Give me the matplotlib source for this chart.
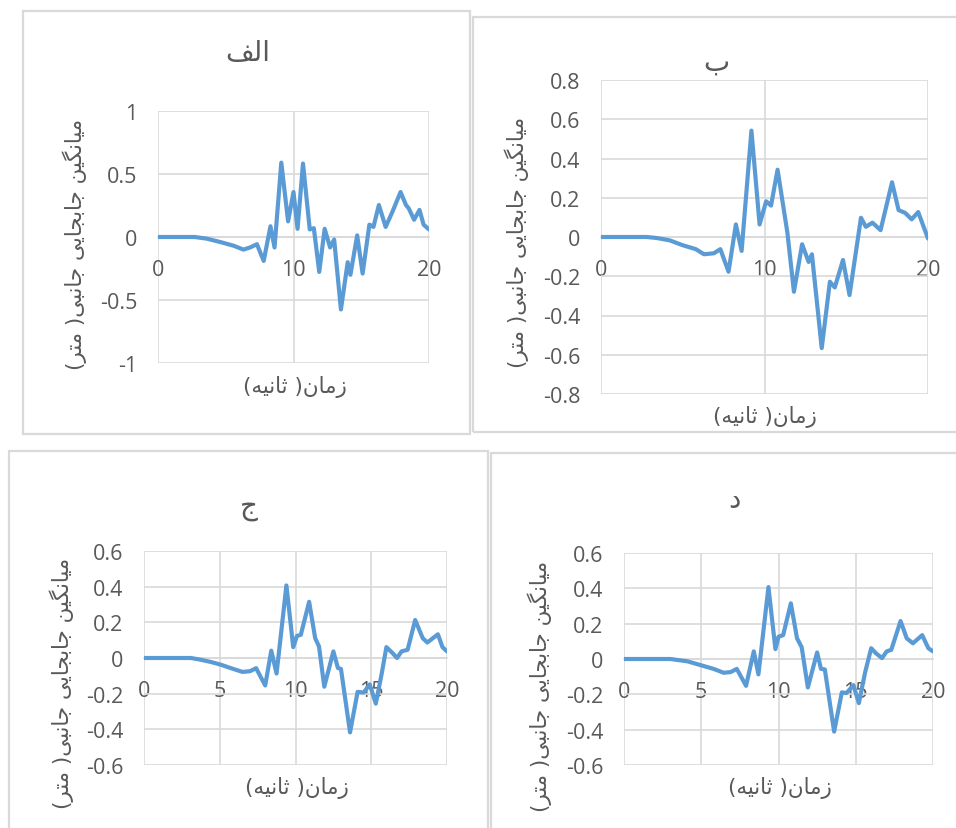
import matplotlib
matplotlib.use("Agg")
import matplotlib.pyplot as plt
from matplotlib.patches import Rectangle

plt.rcParams['axes.unicode_minus'] = False

# ---------------- data ----------------
t_a = [0, 1, 2, 2.7, 3.6, 4.6, 5.6, 6.3, 6.8, 7.3, 7.8, 8.3, 8.6, 9.1, 9.6, 10.0, 10.3, 10.7, 11.2, 11.5,
       11.9, 12.3, 12.7, 13.0, 13.5, 14.0, 14.2, 14.7, 15.1, 15.6, 15.9, 16.3, 16.8, 17.3, 17.9, 18.3, 18.5,
       18.9, 19.3, 19.6, 20.0]
d_a = [0, 0, 0, 0, -0.013, -0.04, -0.07, -0.10, -0.083, -0.057, -0.19, 0.085, -0.083, 0.59, 0.124, 0.357,
       0.065, 0.583, 0.06, 0.07, -0.277, 0.065, -0.083, -0.02, -0.575, -0.2, -0.30, 0.013, -0.29, 0.098, 0.08,
       0.254, 0.08, 0.2, 0.357, 0.254, 0.228, 0.137, 0.215, 0.098, 0.06]

t_b = [0, 1, 2, 2.8, 3.4, 4.2, 5.0, 5.8, 6.3, 6.9, 7.3, 7.8, 8.25, 8.6, 9.2, 9.7, 10.1, 10.4, 10.8, 11.4,
       11.8, 12.3, 12.7, 12.9, 13.5, 14.0, 14.3, 14.8, 15.2, 15.9, 16.2, 16.6, 17.1, 17.8, 18.2, 18.6, 19.0,
       19.4, 20.0]
d_b = [0, 0, 0, 0, -0.005, -0.017, -0.042, -0.062, -0.088, -0.083, -0.062, -0.177, 0.064, -0.071, 0.542,
       0.064, 0.182, 0.16, 0.343, 0.022, -0.279, -0.037, -0.127, -0.088, -0.566, -0.228, -0.257, -0.117,
       -0.296, 0.098, 0.052, 0.073, 0.035, 0.279, 0.137, 0.123, 0.09, 0.127, -0.008]

t_c = [0, 1, 2, 3.1, 3.7, 4.4, 5.05, 5.7, 6.5, 7.0, 7.4, 8.0, 8.4, 8.75, 9.4, 9.85, 10.1, 10.35, 10.9, 11.3,
       11.55, 11.9, 12.5, 12.8, 13.0, 13.6, 14.1, 14.5, 14.9, 15.3, 15.7, 16.0, 16.4, 16.7, 17.0, 17.4, 17.9,
       18.4, 18.7, 19.4, 19.7, 20.0]
d_c = [0, 0, 0, 0, -0.009, -0.022, -0.037, -0.056, -0.078, -0.074, -0.057, -0.154, 0.041, -0.087, 0.407,
       0.061, 0.124, 0.13, 0.315, 0.111, 0.065, -0.161, 0.037, -0.056, -0.061, -0.417, -0.19, -0.194, -0.148,
       -0.256, -0.083, 0.061, 0.028, 0.0, 0.037, 0.046, 0.213, 0.111, 0.087, 0.133, 0.061, 0.037]

t_d = [0, 1, 2, 3.0, 4.1, 5.05, 5.8, 6.45, 6.9, 7.3, 7.9, 8.4, 8.7, 9.35, 9.8, 10.0, 10.3, 10.8, 11.2, 11.5,
       11.9, 12.5, 12.75, 13.0, 13.6, 14.1, 14.4, 14.85, 15.2, 15.6, 16.0, 16.3, 16.7, 17.0, 17.3, 17.9, 18.3,
       18.7, 19.3, 19.7, 20.0]
d_d = [0, 0, 0, 0, -0.013, -0.037, -0.056, -0.078, -0.074, -0.056, -0.152, 0.043, -0.087, 0.407, 0.056,
       0.126, 0.135, 0.315, 0.117, 0.067, -0.161, 0.037, -0.056, -0.059, -0.411, -0.189, -0.193, -0.148, -0.25,
       -0.078, 0.061, 0.033, 0.005, 0.043, 0.052, 0.215, 0.117, 0.089, 0.135, 0.061, 0.043]

yt_a = [-1, -0.5, 0, 0.5, 1]
yl_a = ["-1", "-0.5", "0", "0.5", "1"]
yt_b = [-0.8, -0.6, -0.4, -0.2, 0, 0.2, 0.4, 0.6, 0.8]
yl_b = ["-0.8", "-0.6", "-0.4", "-0.2", "0", "0.2", "0.4", "0.6", "0.8"]
yt_c = [-0.6, -0.4, -0.2, 0, 0.2, 0.4, 0.6]
yl_c = ["-0.6", "-0.4", "-0.2", "0", "0.2", "0.4", "0.6"]
xt_ab = [0, 10, 20]
xt_cd = [0, 5, 10, 15, 20]

# Persian text (presentation forms, visual order)
title_a = "\uFED2\uFEDF\uFE8D"          # الف
title_b = "\uFE8F"                      # ب
title_c = "\uFE9D"                      # ج
title_d = "\uFEA9"                      # د
xlab = "(\uFEEA\uFBFF\uFEE7\uFE8E\uFE9B )\uFEE5\uFE8E\uFEE3\uFEAF"   # زمان( ثانیه)
ylab = ("(\uFEAE\uFE98\uFEE3 )\uFBFD\uFE92\uFEE7\uFE8E\uFE9F "
        "\uFBFD\uFBFE\uFE8E\uFEA0\uFE91\uFE8E\uFE9F "
        "\uFEE6\uFBFF\uFB95\uFEE7\uFE8E\uFBFF\uFEE3")                    # میانگین جابجایی جانبی( متر)

# ---------------- figure ----------------
W, H = 956, 829
fig = plt.figure(figsize=(W / 100, H / 100), dpi=100)
TXT = '#595959'
GRID = '#d9d9d9'
LINE = '#5B9BD5'
AR = ['DejaVu Sans']


def box(l, t, r, b):
    fig.add_artist(Rectangle((l / W, 1 - b / H), (r - l) / W, (b - t) / H, transform=fig.transFigure,
                             fill=False, ec=GRID, lw=1.6))


def fx(x):
    return x / W


def fy(y):
    return 1 - y / H


def panel(rect, t, d, yt, yl, xt, title, txy, xlxy, ylxy):
    l, tp, r, b = rect
    ax = fig.add_axes([l / W, 1 - b / H, (r - l) / W, (b - tp) / H])
    ax.plot(t, d, color=LINE, lw=3.0, solid_joinstyle='round', solid_capstyle='round', zorder=3)
    ax.set_xlim(0, 20)
    ax.set_ylim(yt[0], yt[-1])
    ax.set_yticks(yt)
    ax.set_yticklabels(yl)
    ax.set_xticks(xt)
    ax.set_xticklabels([str(v) for v in xt])
    ax.grid(True, color=GRID, lw=1.2, zorder=0)
    for s in ['top', 'right', 'left']:
        ax.spines[s].set_visible(False)
    ax.spines['bottom'].set_position(('data', 0))
    ax.spines['bottom'].set_color(GRID)
    ax.spines['bottom'].set_linewidth(1.2)
    ax.tick_params(axis='both', length=0, labelsize=15.5, labelcolor=TXT)
    ax.tick_params(axis='y', pad=15)
    ax.tick_params(axis='x', pad=16)
    for lab in ax.get_xticklabels() + ax.get_yticklabels():
        lab.set_fontfamily(['Open Sans', 'DejaVu Sans'])
    ax.set_facecolor('none')
    fig.text(fx(txy[0]), fy(txy[1]), title, ha='center', va='center', fontsize=20, color=TXT, family=AR)
    fig.text(fx(xlxy[0]), fy(xlxy[1]), xlab, ha='center', va='center', fontsize=15.5, color=TXT, family=AR)
    fig.text(fx(ylxy[0]), fy(ylxy[1]), ylab, ha='center', va='center', fontsize=15.5, color=TXT, family=AR,
             rotation=90)
    return ax


box(23, 12, 470, 435)
box(473, 18, 960, 433)
box(9, 452, 488, 833)
box(491, 454, 960, 833)

panel((158, 112, 429, 364), t_a, d_a, yt_a, yl_a, xt_ab, title_a, (248, 53), (295, 387), (75, 244))
panel((601, 81, 928, 395), t_b, d_b, yt_b, yl_b, xt_ab, title_b, (716, 63), (765, 417), (517, 242))
panel((144, 552, 447, 766), t_c, d_c, yt_c, yl_c, xt_cd, title_c, (249, 507), (297, 788), (62, 683))
panel((624, 554, 933, 766), t_d, d_d, yt_c, yl_c, xt_cd, title_d, (734, 500), (780, 788), (540, 686))

fig.savefig('out.png', dpi=100, facecolor='white')
